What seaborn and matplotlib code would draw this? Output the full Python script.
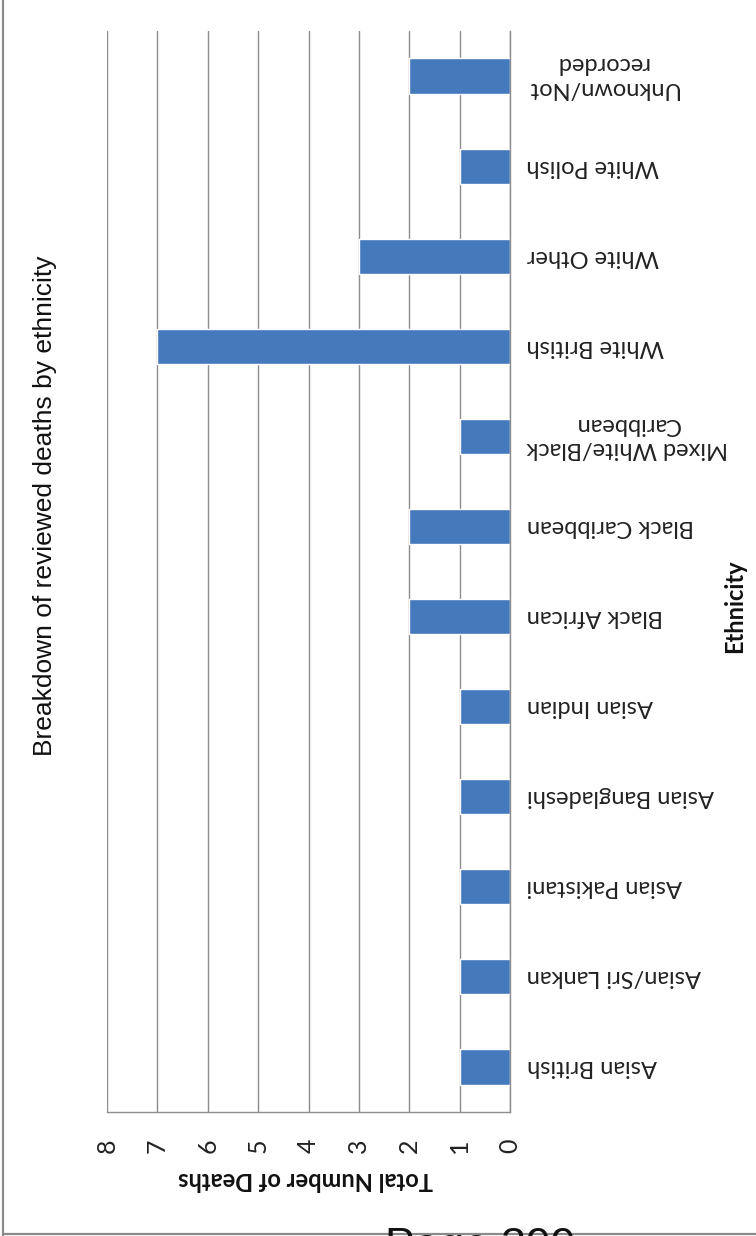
import matplotlib
matplotlib.use("Agg")
import matplotlib.pyplot as plt
from matplotlib.lines import Line2D
import seaborn as sns
import pandas as pd

# Deaths reviewed, by ethnicity
categories = [
    "Asian British",
    "Asian/Sri Lankan",
    "Asian Pakistani",
    "Asian Bangladeshi",
    "Asian Indian",
    "Black African",
    "Black Caribbean",
    "Mixed White/Black\nCaribbean",
    "White British",
    "White Other",
    "White Polish",
    "Unknown/Not\nrecorded",
]
deaths = [1, 1, 1, 1, 1, 2, 2, 1, 7, 3, 1, 2]
value_ticks = [0, 1, 2, 3, 4, 5, 6, 7, 8]

title = "Breakdown of reviewed deaths by ethnicity"
value_label = "Total Number of Deaths"
category_label = "Ethnicity"

df = pd.DataFrame({"Ethnicity": categories, "Deaths": deaths})

sns.set_theme(style="white")
plt.rcParams["font.family"] = ["Lato", "DejaVu Sans"]

W, H = 756, 1236
fig = plt.figure(figsize=(W / 100, H / 100), dpi=100)
fig.patch.set_facecolor("white")

# plot area in pixel coordinates
x0, x1, y0, y1 = 107, 510, 31, 1112
ax = fig.add_axes([x0 / W, 1 - y1 / H, (x1 - x0) / W, (y1 - y0) / H])

sns.barplot(
    data=df, x="Deaths", y="Ethnicity", order=categories[::-1],
    orient="h", color="#4479bc", saturation=1, width=0.39, ax=ax,
)

ax.set_xlim(8, 0)
ax.set_ylim(len(categories) - 0.5, -0.5)
ax.set_xticks(value_ticks)
ax.set_xticklabels([str(v) for v in value_ticks], rotation=90,
                   fontsize=18, color="#222222", va="center", ha="center")
ax.tick_params(axis="x", length=0, pad=24)

ax.yaxis.tick_right()
ax.tick_params(axis="y", length=0, pad=12)
for lab in ax.get_yticklabels():
    lab.set_rotation(180)
    lab.set_fontsize(17)
    lab.set_color("#222222")
    lab.set_ha("left")
    lab.set_va("center")
    lab.set_multialignment("center")

ax.set_xlabel("")
ax.set_ylabel("")
ax.xaxis.grid(True, color="#8c8c8c", linewidth=1)
ax.yaxis.grid(False)
ax.set_axisbelow(True)

for side in ["top", "left"]:
    ax.spines[side].set_visible(False)
for side in ["right", "bottom"]:
    ax.spines[side].set_color("#8c8c8c")
    ax.spines[side].set_linewidth(1)

# rotated titles
fig.text(45 / W, 1 - 506 / H, title, rotation=90, ha="center", va="center",
         fontsize=19, family=["Liberation Sans", "DejaVu Sans"], color="#111111")
fig.text(306 / W, 1 - 1180 / H, value_label, rotation=180, ha="center",
         va="center", fontsize=17, fontweight="bold", color="#111111")
fig.text(735 / W, 1 - 606 / H, category_label, rotation=90, ha="center",
         va="center", fontsize=17, fontweight="bold", color="#111111")

# page frame and footer
fig.add_artist(Line2D([3 / W, 3 / W], [0, 1], transform=fig.transFigure,
                      color="#8a8a8a", linewidth=1.6))
fig.add_artist(Line2D([3 / W, 1], [2 / H, 2 / H], transform=fig.transFigure,
                      color="#8a8a8a", linewidth=1.6))
fig.text(385 / W, 1 - 1259 / H, "Page 399", ha="left", va="baseline",
         fontsize=32, family=["Liberation Sans", "DejaVu Sans"], color="#111111")

fig.savefig("out.png", dpi=100)
